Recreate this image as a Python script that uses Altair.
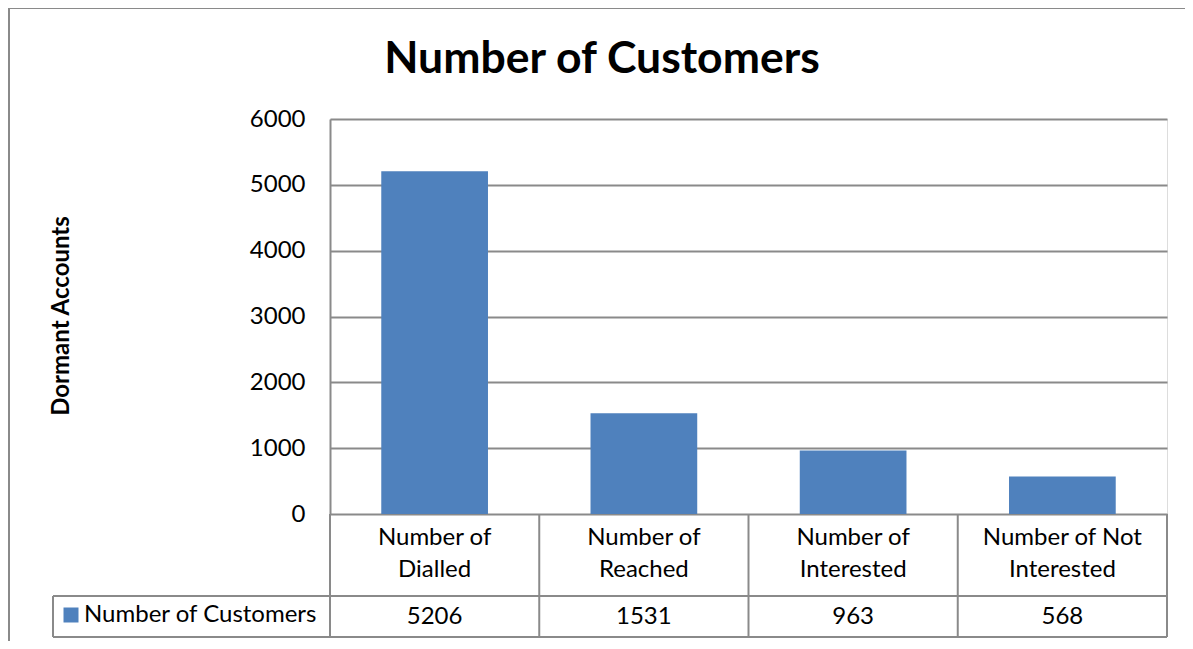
import altair as alt
import pandas as pd

categories = ["Number of Dialled", "Number of Reached", "Number of Interested", "Number of Not Interested"]
cat_labels = ["Number of\nDialled", "Number of\nReached", "Number of\nInterested", "Number of Not\nInterested"]
values = [5206, 1531, 963, 568]
y_ticks = [0, 1000, 2000, 3000, 4000, 5000, 6000]
series_name = "Number of Customers"
title_text = "Number of Customers"
y_title = "Dormant Accounts"

df = pd.DataFrame({"cat": categories, "label": cat_labels, "value": values})
one = pd.DataFrame({"k": [0]})

FONT = "Lato"
LINE = "#8a8a8a"
BLUE = "#4F81BD"
W, H = 837, 395
FS = 24

xenc = alt.X("cat:N", sort=categories, scale=alt.Scale(paddingInner=0, paddingOuter=0), axis=None)

bars = alt.Chart(df).mark_bar(color=BLUE, width=alt.RelativeBandSize(0.51)).encode(
    x=xenc,
    y=alt.Y("value:Q", scale=alt.Scale(domain=[0, 6000], nice=False),
            axis=alt.Axis(values=y_ticks, format="d", title=None, grid=True, gridColor=LINE, gridWidth=2,
                          domain=True, domainColor=LINE, domainWidth=2, ticks=False, tickSize=0,
                          labelPadding=25, labelFont=FONT, labelFontSize=FS, labelColor="black")),
)

cat_text = alt.Chart(df).mark_text(font=FONT, fontSize=FS, lineBreak="\n", lineHeight=32,
                                   baseline="middle", color="black").encode(
    x=xenc, y=alt.value(419), text="label:N")

val_text = alt.Chart(df).mark_text(font=FONT, fontSize=FS, baseline="middle", color="black").encode(
    x=xenc, y=alt.value(498), text="value:Q")

vrules = alt.Chart(df).mark_rule(color=LINE, strokeWidth=2).encode(
    x=alt.X("cat:N", sort=categories, bandPosition=0, scale=alt.Scale(paddingInner=0, paddingOuter=0), axis=None),
    y=alt.value(395), y2=alt.value(518))

def rule(**enc):
    return alt.Chart(one).mark_rule(color=LINE, strokeWidth=2).encode(**enc)

r_right = rule(x=alt.value(W), y=alt.value(395), y2=alt.value(518))
r_h1 = rule(x=alt.value(-277), x2=alt.value(W), y=alt.value(477))
r_h2 = rule(x=alt.value(-277), x2=alt.value(W), y=alt.value(518))
r_leg = rule(x=alt.value(-277), y=alt.value(477), y2=alt.value(518))
r_btop = rule(x=alt.value(-322), x2=alt.value(W + 20), y=alt.value(-111))
r_bleft = rule(x=alt.value(-321), y=alt.value(-111), y2=alt.value(H + 130))

swatch = alt.Chart(one).mark_square(color=BLUE, opacity=1, size=225).encode(
    x=alt.value(-259), y=alt.value(496))
leg_text = alt.Chart(one).mark_text(text=series_name, font=FONT, fontSize=FS, align="left",
                                    baseline="middle", color="black").encode(
    x=alt.value(-246), y=alt.value(496))

title = alt.Chart(one).mark_text(text=title_text, font=FONT, fontSize=44.5, fontWeight="bold",
                                 baseline="middle", color="black").encode(
    x=alt.value(272), y=alt.value(-59))
ytitle = alt.Chart(one).mark_text(text=y_title, font=FONT, fontSize=24, fontWeight="bold", angle=270,
                                  baseline="middle", color="black").encode(
    x=alt.value(-268), y=alt.value(197))

chart = alt.layer(
    bars, cat_text, val_text, vrules, r_right, r_h1, r_h2, r_leg, r_btop, r_bleft,
    swatch, leg_text, title, ytitle
).properties(
    width=W, height=H,
    autosize=alt.AutoSizeParams(type="none"),
    padding={"left": 322, "top": 111, "right": 18, "bottom": 127},
).configure_view(stroke=None).configure(background="white")

chart.save("out.html", embed_options={"renderer": "svg", "actions": False})
